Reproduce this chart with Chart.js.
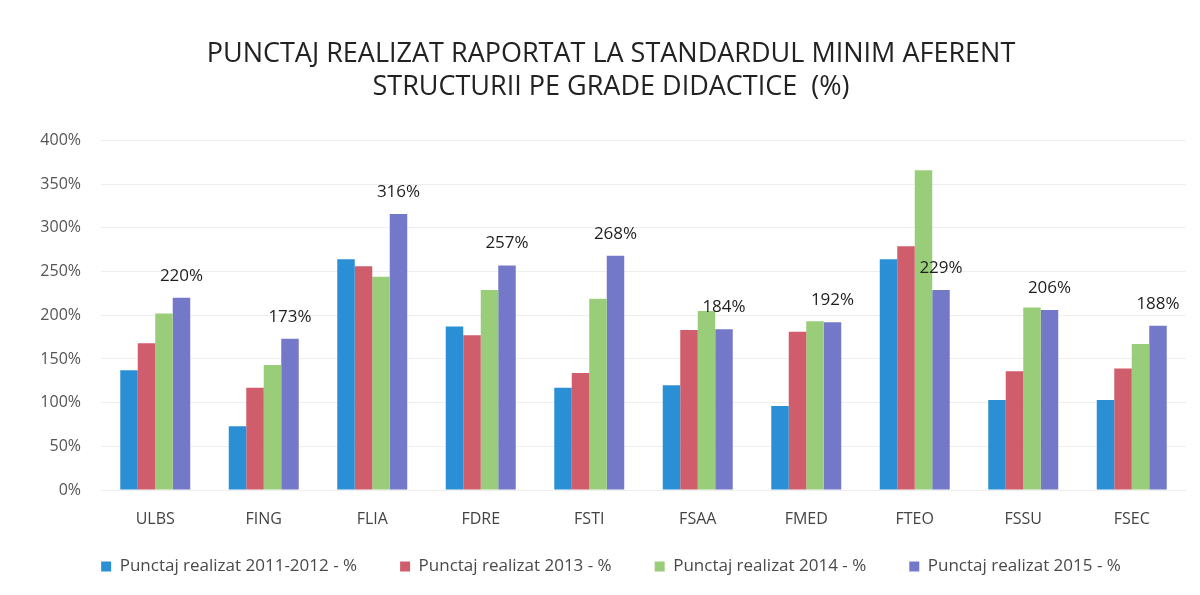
<!DOCTYPE html>
<html>
<head>
<meta charset="utf-8">
<script src="https://cdn.jsdelivr.net/npm/chart.js@4"></script>
<style>
html,body{margin:0;padding:0;background:#fff;}
#wrap{width:1200px;height:595px;position:relative;}
</style>
</head>
<body>
<div id="wrap"><canvas id="c" width="1200" height="595"></canvas></div>
<script>
const categories = ['ULBS','FING','FLIA','FDRE','FSTI','FSAA','FMED','FTEO','FSSU','FSEC'];
const s2011_2012 = [137, 73, 264, 187, 117, 120, 96, 264, 103, 103];
const s2013 = [168, 117, 256, 177, 134, 183, 181, 279, 136, 139];
const s2014 = [202, 143, 244, 229, 219, 205, 193, 366, 209, 167];
const s2015 = [220, 173, 316, 257, 268, 184, 192, 229, 206, 188];
const s2015Labels = ['220%','173%','316%','257%','268%','184%','192%','229%','206%','188%'];
const seriesNames = ['Punctaj realizat 2011-2012 - %','Punctaj realizat 2013 - %','Punctaj realizat 2014 - %','Punctaj realizat 2015 - %'];
const yTicks = [0,50,100,150,200,250,300,350,400];

const FONT = "'Open Sans', sans-serif";
const colors = ['#2b8fd6','#d05d6c','#9acd7a','#7478c8'];

const labelPlugin = {
  id: 'valueLabels',
  afterLayout(chart) {
    // let x tick labels overflow their (compact) axis box instead of being clipped
    const x = chart.scales.x;
    x.bottom = x.top + 45;
  },
  afterDatasetsDraw(chart) {
    const ctx = chart.ctx;
    const meta = chart.getDatasetMeta(3);
    ctx.save();
    ctx.font = "17px " + FONT;
    ctx.fillStyle = '#1e1e1e';
    ctx.textAlign = 'center';
    ctx.textBaseline = 'middle';
    meta.data.forEach((bar, i) => {
      ctx.fillText(s2015Labels[i], bar.x, bar.y - 22);
    });
    ctx.restore();
  }
};

new Chart(document.getElementById('c'), {
  type: 'bar',
  data: {
    labels: categories,
    datasets: [
      {label: seriesNames[0], data: s2011_2012, backgroundColor: colors[0]},
      {label: seriesNames[1], data: s2013, backgroundColor: colors[1]},
      {label: seriesNames[2], data: s2014, backgroundColor: colors[2]},
      {label: seriesNames[3], data: s2015, backgroundColor: colors[3]}
    ]
  },
  options: {
    responsive: false,
    animation: false,
    devicePixelRatio: 1,
    layout: {padding: {left: 36, right: 14, top: 10, bottom: 10}},
    datasets: {bar: {categoryPercentage: 0.645, barPercentage: 1.0}},
    plugins: {
      title: {
        display: true,
        text: ['PUNCTAJ REALIZAT RAPORTAT LA STANDARDUL MINIM AFERENT', 'STRUCTURII PE GRADE DIDACTICE  (%)'],
        font: {family: FONT, size: 27, weight: 'normal', lineHeight: 1.25},
        color: '#222222',
        padding: {top: 27, bottom: 36}
      },
      legend: {
        position: 'bottom',
        labels: {
          boxWidth: 10, boxHeight: 10, padding: 43,
          font: {family: FONT, size: 17},
          color: '#4a4a4a'
        }
      },
      tooltip: {enabled: false}
    },
    scales: {
      x: {
        grid: {display: false},
        border: {display: false},
        afterFit(scale) { scale.height = 25; },
        ticks: {font: {family: FONT, size: 16}, color: '#444', padding: 12}
      },
      y: {
        min: 0, max: 400,
        afterBuildTicks(scale) { scale.ticks = yTicks.map(v => ({value: v})); },
        afterFit(scale) { scale.width = 65; },
        grid: {color: '#eeeeee', drawTicks: false},
        border: {display: false},
        ticks: {
          font: {family: FONT, size: 16}, color: '#555', padding: 20,
          callback: v => v + '%'
        }
      }
    }
  },
  plugins: [labelPlugin]
});
</script>
</body>
</html>
